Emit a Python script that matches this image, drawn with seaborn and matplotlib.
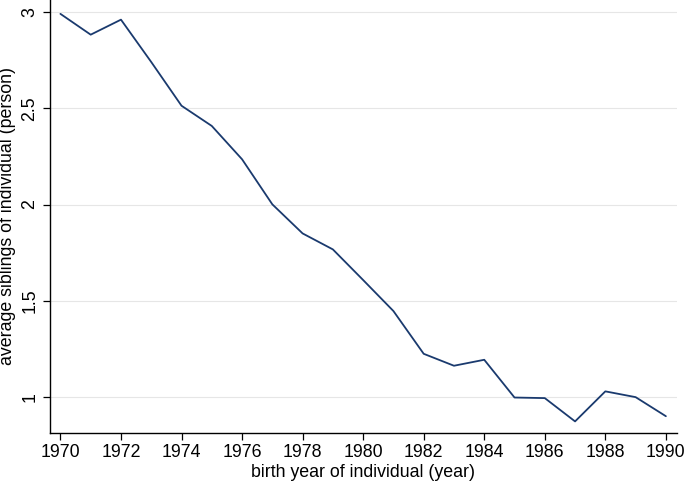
import matplotlib
matplotlib.use("Agg")
import matplotlib.pyplot as plt
import seaborn as sns
import pandas as pd

years = list(range(1970, 1991))
siblings = [2.99, 2.882, 2.96, 2.74, 2.513, 2.408, 2.235, 2.001, 1.850, 1.767,
            1.608, 1.447, 1.225, 1.163, 1.194, 0.998, 0.995, 0.874, 1.03, 1.0, 0.901]
xticks = list(range(1970, 1991, 2))
yticks = [1, 1.5, 2, 2.5, 3]
ytick_labels = ["1", "1.5", "2", "2.5", "3"]

df = pd.DataFrame({"year": years, "siblings": siblings})

sns.set_style("white")
plt.rcParams['font.family'] = ['Liberation Sans', 'DejaVu Sans']
plt.rcParams['text.color'] = 'black'
plt.rcParams['axes.labelcolor'] = 'black'
plt.rcParams['xtick.color'] = 'black'
plt.rcParams['ytick.color'] = 'black'

fig = plt.figure(figsize=(6.85, 4.83), dpi=100)
ax = fig.add_axes([0.0723, 0.104, 0.9157, 0.896])

for yv in yticks:
    ax.axhline(yv, color="#e6e6e6", lw=0.8, zorder=0)

sns.lineplot(data=df, x="year", y="siblings", ax=ax, color="#1a3a6e", lw=1.3)

ax.set_xlim(1969.64, 1990.36)
ax.set_ylim(0.815, 3.062)
ax.set_xticks(xticks)
ax.set_xticklabels([str(t) for t in xticks], fontsize=12.8)
ax.set_yticks(yticks)
ax.set_yticklabels(ytick_labels, fontsize=12.8, rotation=90, va="center")
ax.tick_params(axis="both", direction="out", length=5, width=0.9, colors="black",
               bottom=True, left=True, pad=3)
ax.set_xlabel("birth year of individual (year)", fontsize=12.8, labelpad=2)
ax.set_ylabel("average siblings of individual (person)", fontsize=12.8, labelpad=4)
for s in ["top", "right"]:
    ax.spines[s].set_visible(False)
for s in ["left", "bottom"]:
    ax.spines[s].set_color("black")
    ax.spines[s].set_linewidth(1.0)

fig.savefig("out.png", dpi=100)
